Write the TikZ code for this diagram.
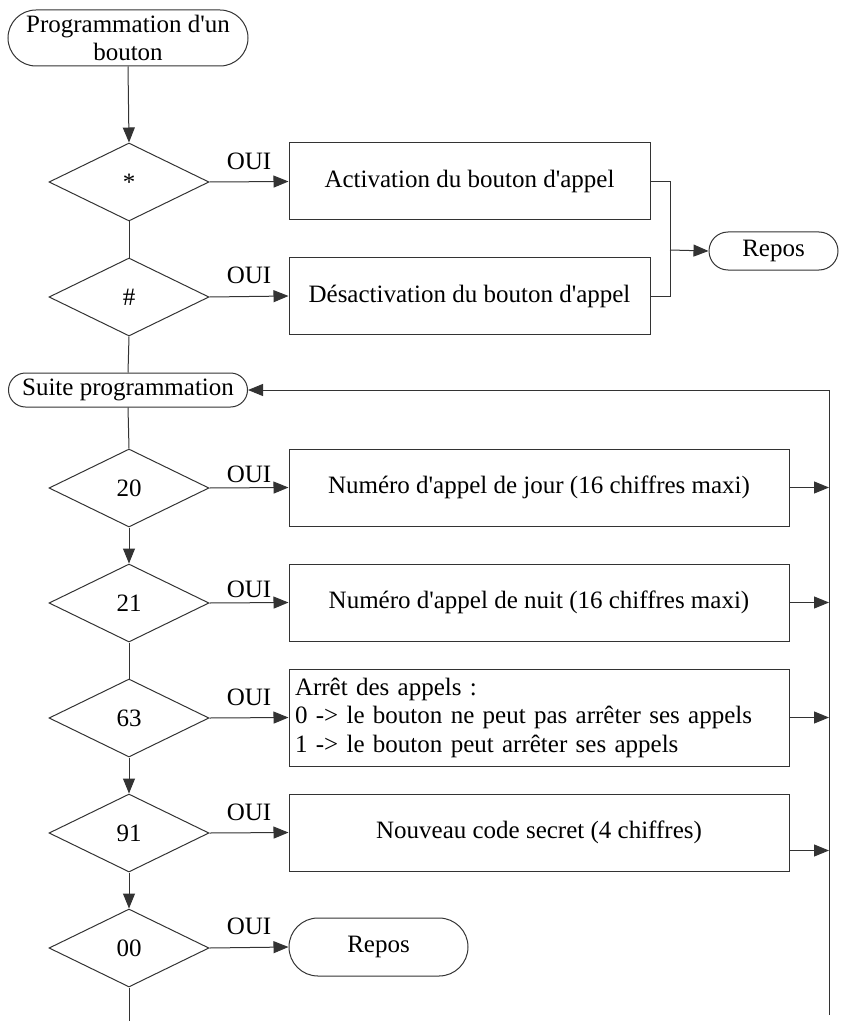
\documentclass[tikz,border=0pt]{standalone}
\usepackage{fontspec}
\setmainfont{Liberation Serif}
\usetikzlibrary{arrows.meta, shapes.geometric, shapes.misc}

\newcommand{\apos}{\textquotesingle}

\begin{document}
\begin{tikzpicture}[x=1pt, y=-1pt, font=\fontsize{25}{28.5}\selectfont, line width=1pt,
  lien/.style={draw=black!80},
  test/.style={lien, diamond, aspect=2, inner sep=0pt, minimum width=160pt, minimum height=78pt},
  action/.style={lien, rectangle, inner sep=0pt, minimum height=77pt},
  terminal/.style={lien, rounded rectangle, inner sep=0pt, align=center},
  oui/.style={anchor=south, inner sep=0pt, yshift=12pt},
  fleche/.style={-{Triangle[length=15pt, width=12pt]}}
]

\useasboundingbox (0,0) rectangle (843,1024);

% tests
\node[terminal, minimum width=240pt, minimum height=56pt] (debut) at (128,38) {Programmation d\apos un\\bouton};
\node[test] (detoile) at (129,182) {*};
\node[test] (ddiese) at (129,297) {\#};
\node[terminal, minimum width=239pt, minimum height=34pt] (suite) at (128,390) {Suite programmation};
\node[test] (d20) at (129,488) {20};
\node[test] (d21) at (129,603) {21};
\node[test] (d63) at (129,718) {63};
\node[test] (d91) at (129,833) {91};
\node[test] (d00) at (129,948) {00};

% actions
\node[action, minimum width=361pt] (bact) at (469.5,181.5) {Activation du bouton d\apos appel};
\node[action, minimum width=361pt] (bdes) at (469.5,296) {Désactivation du bouton d\apos appel};
\node[terminal, minimum width=129pt, minimum height=38pt] (repos1) at (773.5,251) {Repos};
\node[action, minimum width=500pt] (b20) at (539,487.5) {Numéro d\apos appel de jour (16 chiffres maxi)};
\node[action, minimum width=500pt] (b21) at (539,602.5) {Numéro d\apos appel de nuit (16 chiffres maxi)};
\node[action, minimum height=97pt, inner xsep=6pt, text width=488pt, align=left] (b63) at (539,717.5)
  {Arrêt des appels :\\0 -> le bouton ne peut pas arrêter ses appels\\1 -> le bouton peut arrêter ses appels};
\node[action, minimum width=500pt] (b91) at (539,832.5) {Nouveau code secret (4 chiffres)};
\node[terminal, minimum width=179pt, minimum height=58pt] (repos2) at (378.5,947) {Repos};

% points de passage
\coordinate (jonction) at (670,250);
\coordinate (boucleHaut) at (829,390);
\coordinate (boucleBas) at (829,1015);
\coordinate (fin) at (129,1021);
\coordinate (sortie91) at ([yshift=-18pt]b91.east);

% colonne principale
\draw[lien] (detoile.south) -- (ddiese.north);
\draw[lien] (ddiese.south) -- (suite.north);
\draw[lien] (suite.south) -- (d20.north);
\draw[lien] (d21.south) -- (d63.north);
\draw[lien] (d00.south) -- (fin);

\begin{scope}[fleche]
\draw[lien] (debut.south) -- (detoile.north);
\draw[lien] (d20.south) -- (d21.north);
\draw[lien] (d63.south) -- (d91.north);
\draw[lien] (d91.south) -- (d00.north);

% branches OUI
\draw[lien] (detoile.east) -- node[oui] {OUI} (bact.west);
\draw[lien] (ddiese.east) -- node[oui] {OUI} (bdes.west);
\draw[lien] (d20.east) -- node[oui, yshift=-7pt] {OUI} (b20.west);
\draw[lien] (d21.east) -- node[oui, yshift=-7pt] {OUI} (b21.west);
\draw[lien] (d63.east) -- node[oui] {OUI} (b63.west);
\draw[lien] (d91.east) -- node[oui] {OUI} (b91.west);
\draw[lien] (d00.east) -- node[oui] {OUI} (repos2.west);

% retours
\draw[lien] (jonction) -- (repos1.west);
\draw[lien] (b20.east) -- (b20.east -| boucleHaut);
\draw[lien] (b21.east) -- (b21.east -| boucleHaut);
\draw[lien] (b63.east) -- (b63.east -| boucleHaut);
\draw[lien] (sortie91) -- (sortie91 -| boucleHaut);
\draw[lien] (boucleBas) -- (boucleHaut) -- (suite.east);
\end{scope}

\draw[lien] (bact.east) -| (jonction) |- (bdes.east);

\end{tikzpicture}
\end{document}
